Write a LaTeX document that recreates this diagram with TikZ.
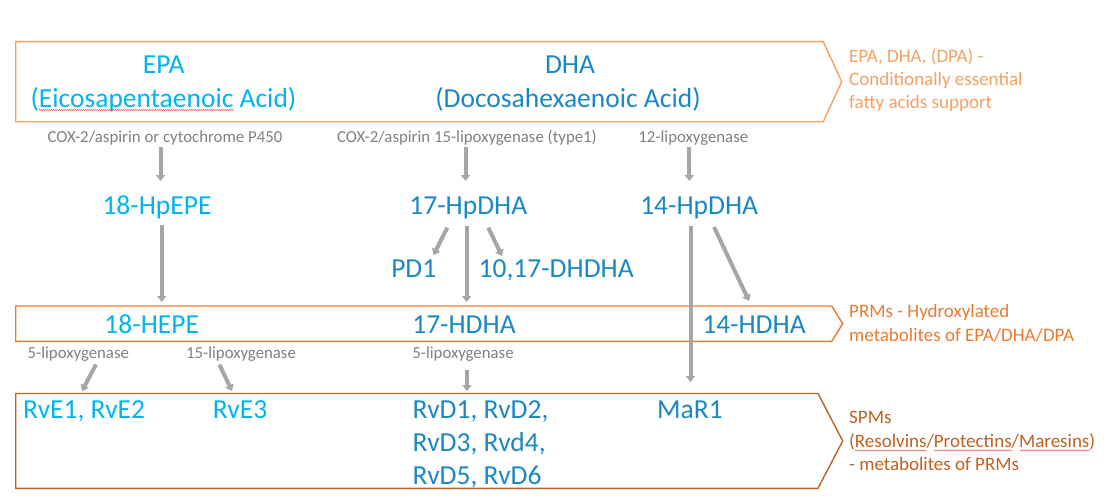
\documentclass[tikz,border=0pt]{standalone}
\usepackage{fontspec}
\setmainfont{Carlito}
\usetikzlibrary{arrows.meta,decorations.pathmorphing}
\definecolor{cyanE}{HTML}{00B4EE}
\definecolor{blueD}{HTML}{1B88C4}
\definecolor{greyT}{HTML}{808080}
\definecolor{greyA}{HTML}{A6A6A6}
\definecolor{orL}{HTML}{F5A064}
\definecolor{orM}{HTML}{EB7A30}
\definecolor{orD}{HTML}{C0601E}
\definecolor{spell}{HTML}{E85050}
\tikzset{
  big/.style={font=\fontsize{27.5}{33}\selectfont, inner sep=0pt, text height=25pt, text depth=7pt},
  epa/.style={big, text=cyanE},
  dha/.style={big, text=blueD},
  enz/.style={font=\fontsize{16.8}{20}\selectfont, text=greyT, inner sep=0pt, text height=15pt, text depth=4.2pt},
  side/.style={align=left, anchor=base west, inner sep=0pt},
  arr/.style={draw=greyA, line width=4pt, -{Triangle[length=6pt,width=9pt]}},
  band/.style={line width=1.4pt, line join=miter},
  squig/.style={draw=spell, line width=0.4pt, decorate, decoration={snake, amplitude=0.6pt, segment length=2pt}}
}
\begin{document}
\begin{tikzpicture}[x=1pt,y=-1pt]
\useasboundingbox (0,0) rectangle (1110,503);
% bands
\draw[band, draw=orL] (15.7,41.7) -- (823.3,41.7) -- (841.7,81.7) -- (823.3,121.7) -- (15.7,121.7) -- cycle;
\draw[band, draw=orM] (15.7,306) -- (831.7,306) -- (842.7,323.7) -- (831.7,341.4) -- (15.7,341.4) -- cycle;
\draw[band, draw=orD] (15.7,393.5) -- (818,393.5) -- (842.7,441) -- (818,488.3) -- (15.7,488.3) -- cycle;
% side labels (anchored at the baseline of their last line)
\node[side, text=orL, font=\fontsize{19}{23}\selectfont] (lab1) at (849,108.8) {EPA, DHA, (DPA) -\\Conditionally essential\\fatty acids support};
\node[side, text=orM, font=\fontsize{19}{23.3}\selectfont] (lab2) at (849,341.1) {PRMs - Hydroxylated\\metabolites of EPA/DHA/DPA};
\node[side, text=orD, font=\fontsize{19}{23.2}\selectfont] (lab3) at (849,470.2) {SPMs\\(Resolvins/Protectins/Maresins)\\- metabolites of PRMs};
% top row
\node[epa] (epa) at (163.7,65) {EPA};
\node[epa] (epafull) at (163.5,98.3) {(Eicosapentaenoic Acid)};
\node[dha] (dha) at (570,65) {DHA};
\node[dha] (dhafull) at (568,98.3) {(Docosahexaenoic Acid)};
\draw[squig] (38.6,110) -- (234,110);
% enzymes
\node[enz] (e1) at (165,137) {COX-2/aspirin or cytochrome P450};
\node[enz] (e2) at (467,137.5) {COX-2/aspirin 15-lipoxygenase (type1)};
\node[enz] (e3) at (693.3,137.5) {12-lipoxygenase};
% hydroperoxides
\node[epa] (hpepe) at (157,205.3) {18-HpEPE};
\node[dha] (hpdha17) at (468.3,205.5) {17-HpDHA};
\node[dha] (hpdha14) at (699.2,205.5) {14-HpDHA};
\node[dha] (pd1) at (413.8,268.3) {PD1};
\node[dha] (dhdha) at (556.2,268.3) {10,17-DHDHA};
% PRMs
\node[epa] (hepe) at (151.7,324.3) {18-HEPE};
\node[dha] (hdha17) at (464,324.3) {17-HDHA};
\node[dha] (hdha14) at (754,324.3) {14-HDHA};
% enzymes 2
\node[enz] (e4) at (78.3,353.3) {5-lipoxygenase};
\node[enz] (e5) at (241,353.3) {15-lipoxygenase};
\node[enz] (e6) at (463,353.3) {5-lipoxygenase};
% SPMs
\node[epa, anchor=west] (rve12) at (23,409.3) {RvE1, RvE2};
\node[epa] (rve3) at (240,409.3) {RvE3};
\node[side, text=blueD, font=\fontsize{27.5}{33}\selectfont] (rvd) at (412.5,484.2) {RvD1, RvD2,\\RvD3, Rvd4,\\RvD5, RvD6};
\node[dha] (mar1) at (690,409.3) {MaR1};
\draw[squig] (854.8,450.5) -- (926.7,450.5);
\draw[squig] (934,450.5) -- (1012.5,450.5);
\draw[squig] (1019.8,450.5) -- (1090.4,450.5);
% arrow end points
\coordinate (a1s) at (160.5,147); \coordinate (a1e) at (160.5,181);
\coordinate (a2s) at (465.5,147); \coordinate (a2e) at (465.5,181);
\coordinate (a3s) at (689.3,147); \coordinate (a3e) at (689.3,181);
\coordinate (a4s) at (161.7,225); \coordinate (a4e) at (161.7,302);
\coordinate (a5s) at (447.3,227.7); \coordinate (a5e) at (433.5,255);
\coordinate (a6s) at (466.7,226); \coordinate (a6e) at (466.7,302);
\coordinate (a7s) at (488.3,227.7); \coordinate (a7e) at (502,256);
\coordinate (a8s) at (690.5,226); \coordinate (a8e) at (690.5,382);
\coordinate (a9s) at (714,227); \coordinate (a9e) at (749,301);
\coordinate (a10s) at (96,364.5); \coordinate (a10e) at (82,391);
\coordinate (a11s) at (219.3,364.5); \coordinate (a11e) at (232,391);
\coordinate (a12s) at (467,370); \coordinate (a12e) at (467,391);
\foreach \i in {1,...,12} {\draw[arr] (a\i s) -- (a\i e);}
\end{tikzpicture}
\end{document}
